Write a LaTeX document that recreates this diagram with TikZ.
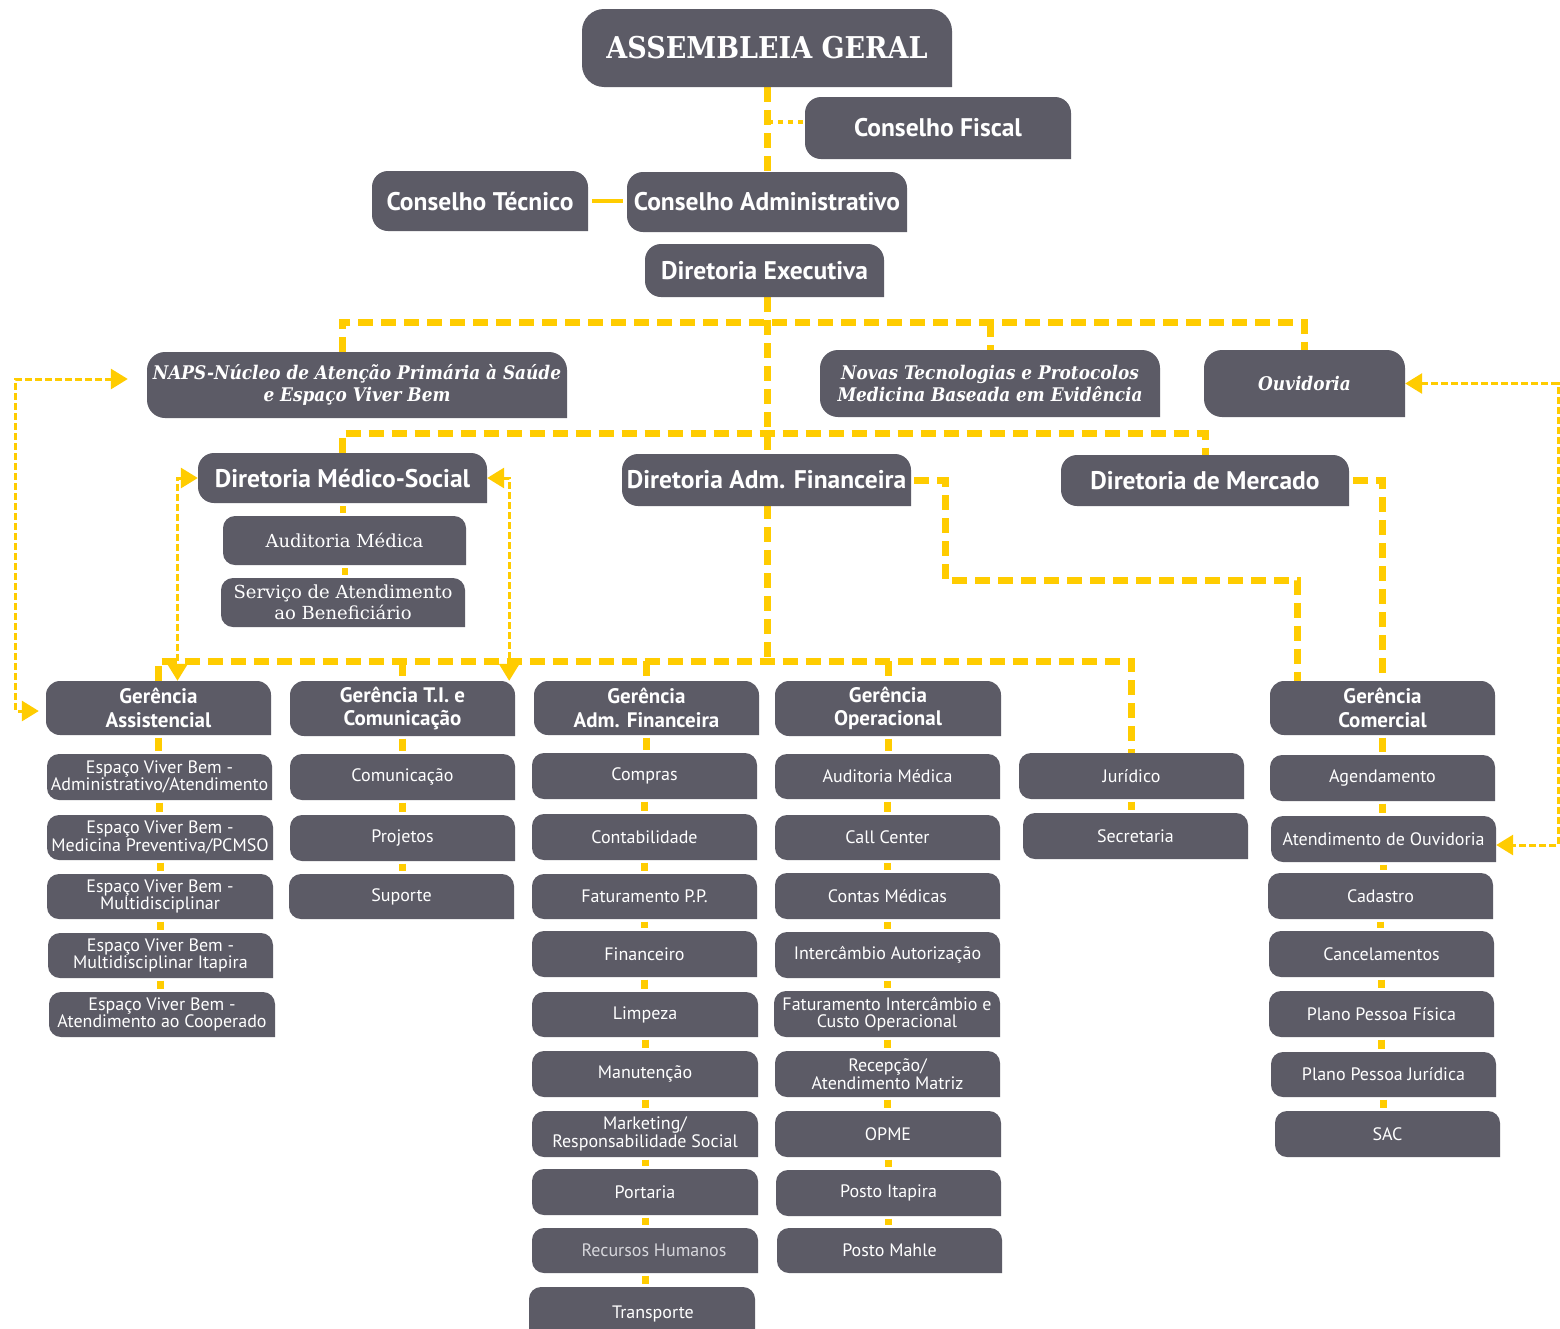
\documentclass[tikz,border=0pt]{standalone}
\usepackage{fontspec}
\setmainfont{PT Sans}
\newfontfamily\slabfam{DejaVu Serif Condensed}
\newfontfamily\slabreg{DejaVu Serif}
\usetikzlibrary{arrows.meta,calc}
\definecolor{boxc}{RGB}{92,91,102}
\definecolor{ylw}{RGB}{255,204,0}
\definecolor{lightt}{RGB}{215,215,220}
\pgfdeclarelayer{bg}
\pgfsetlayers{bg,main}
\tikzset{
  bx/.style={inner sep=0pt, text=white, align=center},
  tA/.style={font=\slabfam\bfseries\fontsize{30}{32}\selectfont},
  tB/.style={font=\bfseries\fontsize{25.5}{28}\selectfont},
  tN/.style={font=\slabfam\bfseries\itshape\fontsize{18.8}{22}\selectfont},
  tG/.style={font=\bfseries\fontsize{21}{23.5}\selectfont},
  tS/.style={font=\fontsize{18}{17.5}\selectfont},
  tSer/.style={font=\slabreg\fontsize{18}{21}\selectfont},
  thk/.style={draw=ylw, line width=7pt, dash pattern=on 15pt off 8pt},
  med/.style={draw=ylw, line width=4pt, dash pattern=on 5pt off 5pt},
  sol/.style={draw=ylw, line width=4pt},
  lk/.style={draw=ylw, line width=7pt, shorten <=2.5pt, shorten >=2.5pt},
  lks/.style={draw=ylw, line width=6pt, shorten <=3pt, shorten >=3pt},
  dta/.style={draw=ylw, line width=3pt, dash pattern=on 7pt off 3pt,
    {Triangle[width=20pt,length=17pt]}-{Triangle[width=20pt,length=17pt]}},
}
% \bx[radius]{name}{L}{T}{R}{B}{style}{text}
\newcommand\bx[8][12]{%
  \fill[boxc] (#3,-#6+#1) -- (#3,-#4-#1) arc[start angle=180,end angle=90,radius=#1]
    -- (#5-#1,-#4) arc[start angle=90,end angle=0,radius=#1]
    -- (#5,-#6) -- (#3+#1,-#6) arc[start angle=270,end angle=180,radius=#1] -- cycle;
  \node[bx,#7,minimum width={#5-#3},minimum height={#6-#4}] (#2) at ({(#3+#5)/2},{-(#4+#6)/2}) {#8};
}
\newcommand\lnk[2]{\draw[lk] (#1.south) -- (#1.south |- #2.north);}
\begin{document}
\begin{tikzpicture}[x=1pt,y=1pt]
\useasboundingbox (0,0) rectangle (1560,-1328);
\begin{pgfonlayer}{bg}
\fill[white] (0,0) rectangle (1560,-1328);
\end{pgfonlayer}

% top levels
\bx[22]{ag}{582}{9}{952}{87}{tA}{ASSEMBLEIA GERAL}
\bx[16]{cf}{805}{97}{1071}{159}{tB}{Conselho Fiscal}
\bx[16]{ca}{627}{172}{907}{232}{tB}{Conselho Administrativo}
\bx[16]{ct}{372}{171}{588}{231}{tB}{Conselho Técnico}
\bx[16]{de}{645}{244}{884}{297}{tB}{Diretoria Executiva}
\bx[18]{naps}{147}{352}{567}{418}{tN}{NAPS-Núcleo de Atenção Primária à Saúde\\e Espaço Viver Bem}
\bx[18]{nov}{820}{350}{1160}{417}{tN}{Novas Tecnologias e Protocolos\\Medicina Baseada em Evidência}
\bx[18]{ouv}{1204}{350}{1405}{417}{tN}{Ouvidoria}
\bx[16]{dms}{198}{453}{487}{503}{tB}{Diretoria Médico-Social}
\bx[16]{dam}{622}{454}{911}{506}{tB}{Diretoria Adm. Financeira}
\bx[16]{dm}{1061}{455}{1349}{506}{tB}{Diretoria de Mercado}
\bx[12]{aud}{223}{516}{466}{565}{tSer}{Auditoria Médica}
\bx[12]{sab}{221}{578}{465}{627}{tSer}{Serviço de Atendimento\\ao Beneficiário}

% gerencias
\bx[14]{gas}{46}{681}{271}{735}{tG}{Gerência\\Assistencial}
\bx[14]{gti}{290}{681}{515}{736}{tG}{Gerência T.I. e\\Comunicação}
\bx[14]{gaf}{534}{681}{759}{735}{tG}{Gerência\\Adm. Financeira}
\bx[14]{gop}{775}{681}{1001}{736}{tG}{Gerência\\Operacional}
\bx[14]{gco}{1270}{681}{1495}{735}{tG}{Gerência\\Comercial}

% column A
\bx{a1}{47}{754}{272}{800}{tS}{Espaço Viver Bem -\\Administrativo/Atendimento}
\bx{a2}{47}{815}{273}{860}{tS}{Espaço Viver Bem -\\Medicina Preventiva/PCMSO}
\bx{a3}{47}{874}{273}{919}{tS}{Espaço Viver Bem -\\Multidisciplinar}
\bx{a4}{48}{933}{273}{978}{tS}{Espaço Viver Bem -\\Multidisciplinar Itapira}
\bx{a5}{49}{992}{275}{1037}{tS}{Espaço Viver Bem -\\Atendimento ao Cooperado}
% column B
\bx{b1}{290}{754}{515}{800}{tS}{Comunicação}
\bx{b2}{290}{815}{515}{861}{tS}{Projetos}
\bx{b3}{289}{874}{514}{919}{tS}{Suporte}
% column C
\bx{c1}{532}{753}{757}{799}{tS}{Compras}
\bx{c2}{532}{814}{757}{860}{tS}{Contabilidade}
\bx{c3}{532}{874}{757}{919}{tS}{Faturamento P.P.}
\bx{c4}{532}{931}{757}{977}{tS}{Financeiro}
\bx{c5}{532}{992}{758}{1037}{tS}{Limpeza}
\bx{c6}{532}{1051}{758}{1097}{tS}{Manutenção}
\bx{c7}{532}{1111}{758}{1157}{tS}{Marketing/\\Responsabilidade Social}
\bx{c8}{532}{1169}{758}{1215}{tS}{Portaria}
\bx{c9}{532}{1228}{758}{1273}{tS,text=lightt}{\hspace*{18pt}Recursos Humanos}
\bx{c10}{529}{1287}{755}{1340}{tS}{\hspace*{22pt}Transporte}
% column D
\bx{d1}{775}{754}{1000}{799}{tS}{Auditoria Médica}
\bx{d2}{775}{815}{1000}{860}{tS}{Call Center}
\bx{d3}{775}{873}{1000}{919}{tS}{Contas Médicas}
\bx{d4}{775}{932}{1000}{978}{tS}{Intercâmbio Autorização}
\bx{d5}{774}{991}{1000}{1037}{tS}{Faturamento Intercâmbio e\\Custo Operacional}
\bx{d6}{775}{1051}{1000}{1097}{tS}{Recepção/\\Atendimento Matriz}
\bx{d7}{775}{1111}{1001}{1157}{tS}{OPME}
\bx{d8}{776}{1170}{1001}{1216}{tS}{Posto Itapira}
\bx{d9}{777}{1228}{1002}{1273}{tS}{Posto Mahle}
% column E
\bx{e1}{1019}{753}{1244}{799}{tS}{Jurídico}
\bx{e2}{1023}{813}{1248}{859}{tS}{Secretaria}
% column F
\bx{f1}{1270}{755}{1495}{801}{tS}{Agendamento}
\bx{f2}{1271}{816}{1496}{862}{tS}{Atendimento de Ouvidoria}
\bx{f3}{1268}{873}{1493}{919}{tS}{Cadastro}
\bx{f4}{1269}{931}{1494}{977}{tS}{Cancelamentos}
\bx{f5}{1269}{991}{1494}{1037}{tS}{Plano Pessoa Física}
\bx{f6}{1271}{1052}{1496}{1097}{tS}{Plano Pessoa Jurídica}
\bx{f7}{1275}{1111}{1500}{1157}{tS}{SAC}

\coordinate (hb1) at (0,-322);
\coordinate (hb2) at (0,-433);
\coordinate (hb4) at (0,-661);
\coordinate (fj) at (768,-122);
\coordinate (cc1) at (945,-580);

\begin{pgfonlayer}{bg}
% upper trunk
\draw[thk] (ag.south) -- (ca.north);
\draw[med] (fj) -- (fj -| cf.west);
\draw[sol,shorten <=4pt,shorten >=4pt] (ct.east) -- (ct.east -| ca.west);
% main trunk
\draw[thk] ([xshift=2.5]de.south) -- ([xshift=2.5]de.south |- hb4);
\draw[thk] ([xshift=-15]naps.north) |- (ouv.north |- hb1) -- (ouv.north);
\draw[thk] (nov.north |- hb1) -- (nov.north);
\draw[thk] (dms.north) |- (dm.north |- hb2) -- (dm.north);
\draw[thk] (gas.north) |- (e1.north |- hb4) -- (e1.north);
\draw[thk] (gti.north |- hb4) -- (gti.north);
\draw[thk] (gaf.north |- hb4) -- (gaf.north);
\draw[thk] (gop.north |- hb4) -- (gop.north);
\draw[thk] ([xshift=3]dam.east) -| (cc1) -| ([xshift=-85]gco.north);
\draw[thk] ([xshift=4]dm.east) -| (gco.north);
% dotted double arrows
\draw[dta] (dms.west) -| ([xshift=19]gas.north);
\draw[dta] (dms.east) -| ([xshift=-6]gti.north east);
\draw[dta,shorten <=19pt,shorten >=7pt] ([yshift=6]naps.west) -- ++(-131,0) |- ([yshift=-3]gas.west);
\draw[dta] (ouv.east) -- ++(153,0) |- ([yshift=-6]f2.east);
% small links
\draw[lks] (dms.south) -- (dms.south |- aud.north);
\draw[lks] (aud.south) -- (aud.south |- sab.north);
\lnk{gas}{a1}\lnk{a1}{a2}\lnk{a2}{a3}\lnk{a3}{a4}\lnk{a4}{a5}
\lnk{gti}{b1}\lnk{b1}{b2}\lnk{b2}{b3}
\lnk{gaf}{c1}\lnk{c1}{c2}\lnk{c2}{c3}\lnk{c3}{c4}\lnk{c4}{c5}\lnk{c5}{c6}\lnk{c6}{c7}\lnk{c7}{c8}\lnk{c8}{c9}\lnk{c9}{c10}
\lnk{gop}{d1}\lnk{d1}{d2}\lnk{d2}{d3}\lnk{d3}{d4}\lnk{d4}{d5}\lnk{d5}{d6}\lnk{d6}{d7}\lnk{d7}{d8}\lnk{d8}{d9}
\lnk{e1}{e2}
\lnk{gco}{f1}\lnk{f1}{f2}\lnk{f2}{f3}\lnk{f3}{f4}\lnk{f4}{f5}\lnk{f5}{f6}\lnk{f6}{f7}
\end{pgfonlayer}
\end{tikzpicture}
\end{document}
